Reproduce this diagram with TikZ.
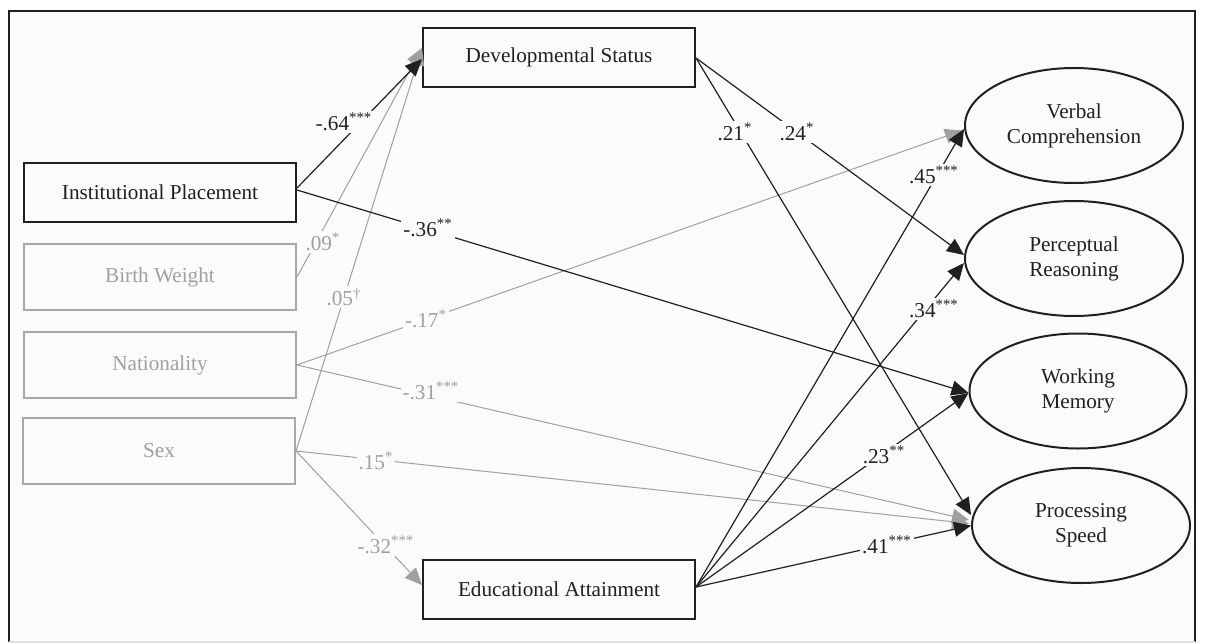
\documentclass[tikz,border=0pt]{standalone}
\usepackage{fontspec}
\setmainfont{Liberation Serif}
\usetikzlibrary{arrows.meta,shapes.geometric,calc}
\definecolor{ink}{HTML}{231F20}
\definecolor{gr}{HTML}{A0A0A0}
\definecolor{grbox}{HTML}{A8A8A8}
\definecolor{bg}{HTML}{FAFBFD}
\begin{document}
\begin{tikzpicture}[x=0.5pt,y=-0.5pt,
  font=\fontsize{10.6}{12.5}\selectfont,
  blackbox/.style={draw=ink,line width=1pt,text=ink,minimum width=136pt,minimum height=29.5pt,inner sep=0pt},
  graybox/.style={draw=grbox,line width=1pt,text=gr,minimum width=136pt,minimum height=33pt,inner sep=0pt},
  latent/.style={ellipse,draw=ink,line width=1pt,text=ink,minimum width=109pt,minimum height=57.5pt,align=center,inner sep=0pt},
  blk/.style={draw=ink,line width=0.6pt,-{Triangle[length=8.5pt,width=7.5pt]}},
  gry/.style={draw=gr,line width=0.5pt,-{Triangle[length=8.5pt,width=7.5pt]}},
  lab/.style={fill=bg,inner sep=1pt,text=ink},
  glab/.style={fill=bg,inner sep=1pt,text=gr}]
\useasboundingbox (0,0) rectangle (1205,643);
% frame
\fill[bg] (9,11) rectangle (1195,642);
\draw[ink,line width=1pt] (9,642) -- (9,11) -- (1195,11) -- (1195,642);
\draw[black!12,line width=0.6pt] (9,642) -- (1195,642);
% nodes
\node[blackbox] (dev) at (559,57.5) {Developmental Status};
\node[blackbox] (inst) at (160,192.5) {Institutional Placement};
\node[graybox] (bw) at (160,277) {Birth Weight};
\node[graybox] (nat) at (160,365) {Nationality};
\node[graybox] (sex) at (159,451) {Sex};
\node[blackbox] (edu) at (559,589.5) {Educational Attainment};
\node[latent] (vc) at (1074,125.5) {Verbal\\Comprehension};
\node[latent] (pr) at (1074,258.5) {Perceptual\\Reasoning};
\node[latent,minimum width=108.5pt] (wm) at (1078,391) {Working\\Memory};
\node[latent] (ps) at (1081,525.5) {Processing\\Speed};
% gray connectors
\draw[gry] (bw.east) -- ($(dev.west)+(0,-9.5)$)
  node[glab] at (323,242) {.09\textsuperscript{*}};
\draw[gry] (sex.east) -- ($(dev.west)+(0,-9.5)$)
  node[glab] at (344,297) {.05\textsuperscript{\textdagger}};
\draw[gry] (nat.east) -- ($(vc.west)+(-2,5)$)
  node[glab] at (426,319) {-.17\textsuperscript{*}};
\draw[gry] (nat.east) -- ($(ps.west)+(-2,-5.5)$)
  node[glab] at (431,391) {-.31\textsuperscript{***}};
\draw[gry] (sex.east) -- ($(ps.west)+(-2,-2)$)
  node[glab] at (376,461) {.15\textsuperscript{*}};
\draw[gry] (sex.east) -- ($(edu.west)+(0,-4.5)$)
  node[glab] at (386,545) {-.32\textsuperscript{***}};
% black connectors
\draw[blk] ($(inst.east)+(0,-4.5)$) -- ($(dev.west)+(0,1.5)$)
  node[lab] at (344,122) {-.64\textsuperscript{***}};
\draw[blk] ($(inst.east)+(0,-2.5)$) -- ($(wm.west)+(0,2)$)
  node[lab] at (428,228) {-.36\textsuperscript{**}};
\draw[blk] ($(dev.east)+(0,0.5)$) -- ($(ps.west)+(0,-10.5)$)
  node[lab] at (735,132) {.21\textsuperscript{*}};
\draw[blk] ($(dev.east)+(0,0.5)$) -- ($(pr.west)+(0,-3.5)$)
  node[lab] at (797,132) {.24\textsuperscript{*}};
\draw[blk] ($(edu.east)+(0,-2.5)$) -- ($(vc.west)+(0,3.5)$)
  node[lab] at (934,175) {.45\textsuperscript{***}};
\draw[blk] ($(edu.east)+(0,-2.5)$) -- ($(pr.west)+(0,4.5)$)
  node[lab] at (934,309) {.34\textsuperscript{***}};
\draw[blk] ($(edu.east)+(0,-2.5)$) -- ($(wm.west)+(0,2)$)
  node[lab] at (884,455) {.23\textsuperscript{**}};
\draw[blk] ($(edu.east)+(0,-2.5)$) -- (ps.west)
  node[lab] at (887,545) {.41\textsuperscript{***}};
\end{tikzpicture}
\end{document}
